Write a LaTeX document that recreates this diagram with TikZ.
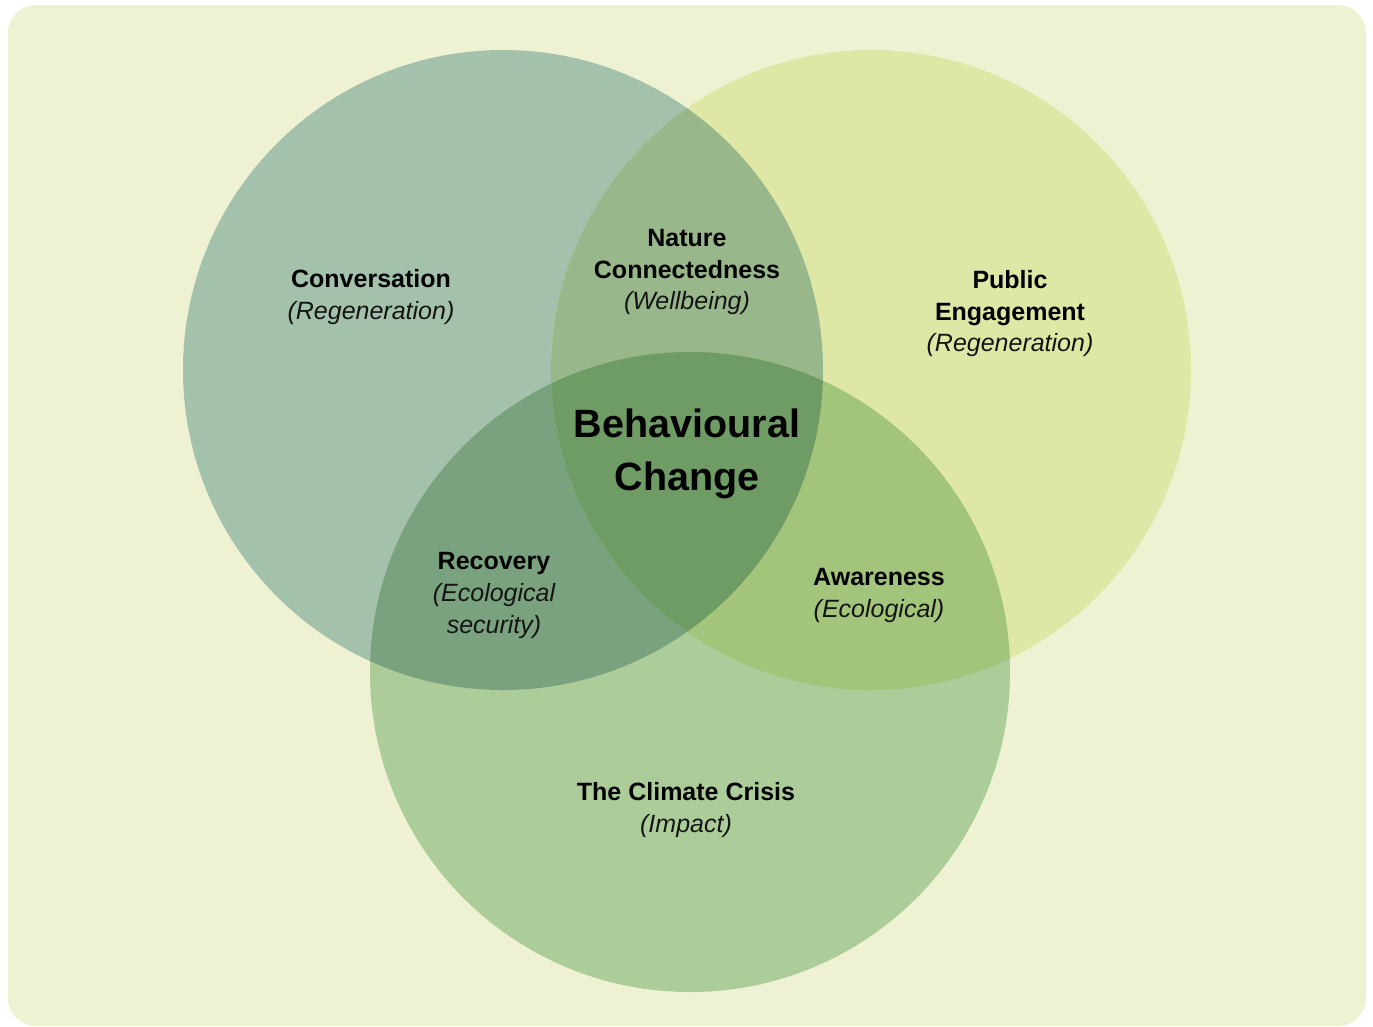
\documentclass[tikz,border=0pt]{standalone}
\usepackage{fontspec}
\setmainfont{Liberation Sans}
\begin{document}
\begin{tikzpicture}[x=1pt,y=-1pt,
  lbl/.style={anchor=base,inner sep=0pt,font=\fontsize{25}{32}\selectfont\bfseries},
  sub/.style={anchor=base,inner sep=0pt,font=\fontsize{25}{32}\selectfont\itshape,text=black!92},
  big/.style={anchor=base,inner sep=0pt,font=\fontsize{39.5}{53}\selectfont\bfseries}]
\definecolor{bgc}{HTML}{EEF2D2}
\definecolor{cL}{HTML}{A3C1AB}
\definecolor{cR}{HTML}{DFE7A7}
\definecolor{cB}{HTML}{ACCD99}
\definecolor{cLR}{HTML}{98B78B}
\definecolor{cLB}{HTML}{7BA27F}
\definecolor{cRB}{HTML}{A3C47B}
\definecolor{cAll}{HTML}{6F9B64}
\useasboundingbox (0,0) rectangle (1373,1026);
% panel
\fill[bgc,rounded corners=28pt] (8,5) rectangle (1366,1026);
% circle centres
\coordinate (L) at (503,370);
\coordinate (R) at (871,370);
\coordinate (B) at (690,672);
\def\rad{320pt}
% single sets
\fill[cL] (L) circle[radius=\rad];
\fill[cR] (R) circle[radius=\rad];
\fill[cB] (B) circle[radius=\rad];
% pairwise overlaps
\begin{scope}\clip (L) circle[radius=\rad]; \fill[cLR] (R) circle[radius=\rad];\end{scope}
\begin{scope}\clip (L) circle[radius=\rad]; \fill[cLB] (B) circle[radius=\rad];\end{scope}
\begin{scope}\clip (R) circle[radius=\rad]; \fill[cRB] (B) circle[radius=\rad];\end{scope}
% centre overlap
\begin{scope}\clip (L) circle[radius=\rad]; \clip (R) circle[radius=\rad]; \fill[cAll] (B) circle[radius=\rad];\end{scope}
% labels
\node[lbl] (conv1) at (371,287) {Conversation};
\node[sub] (conv2) at (371,319) {(Regeneration)};
\node[lbl] (pub1) at (1010,288) {Public};
\node[lbl] (pub2) at (1010,320) {Engagement};
\node[sub] (pub3) at (1010,351) {(Regeneration)};
\node[lbl] (nat1) at (687,246) {Nature};
\node[lbl] (nat2) at (687,278) {Connectedness};
\node[sub] (nat3) at (687,309) {(Wellbeing)};
\node[big] (beh1) at (687,437) {Behavioural};
\node[big] (beh2) at (687,490) {Change};
\node[lbl] (rec1) at (494,569) {Recovery};
\node[sub] (rec2) at (494,601) {(Ecological};
\node[sub] (rec3) at (494,633) {security)};
\node[lbl] (awa1) at (879,585) {Awareness};
\node[sub] (awa2) at (879,617) {(Ecological)};
\node[lbl] (cli1) at (686,800) {The Climate Crisis};
\node[sub] (cli2) at (686,832) {(Impact)};
\end{tikzpicture}
\end{document}
